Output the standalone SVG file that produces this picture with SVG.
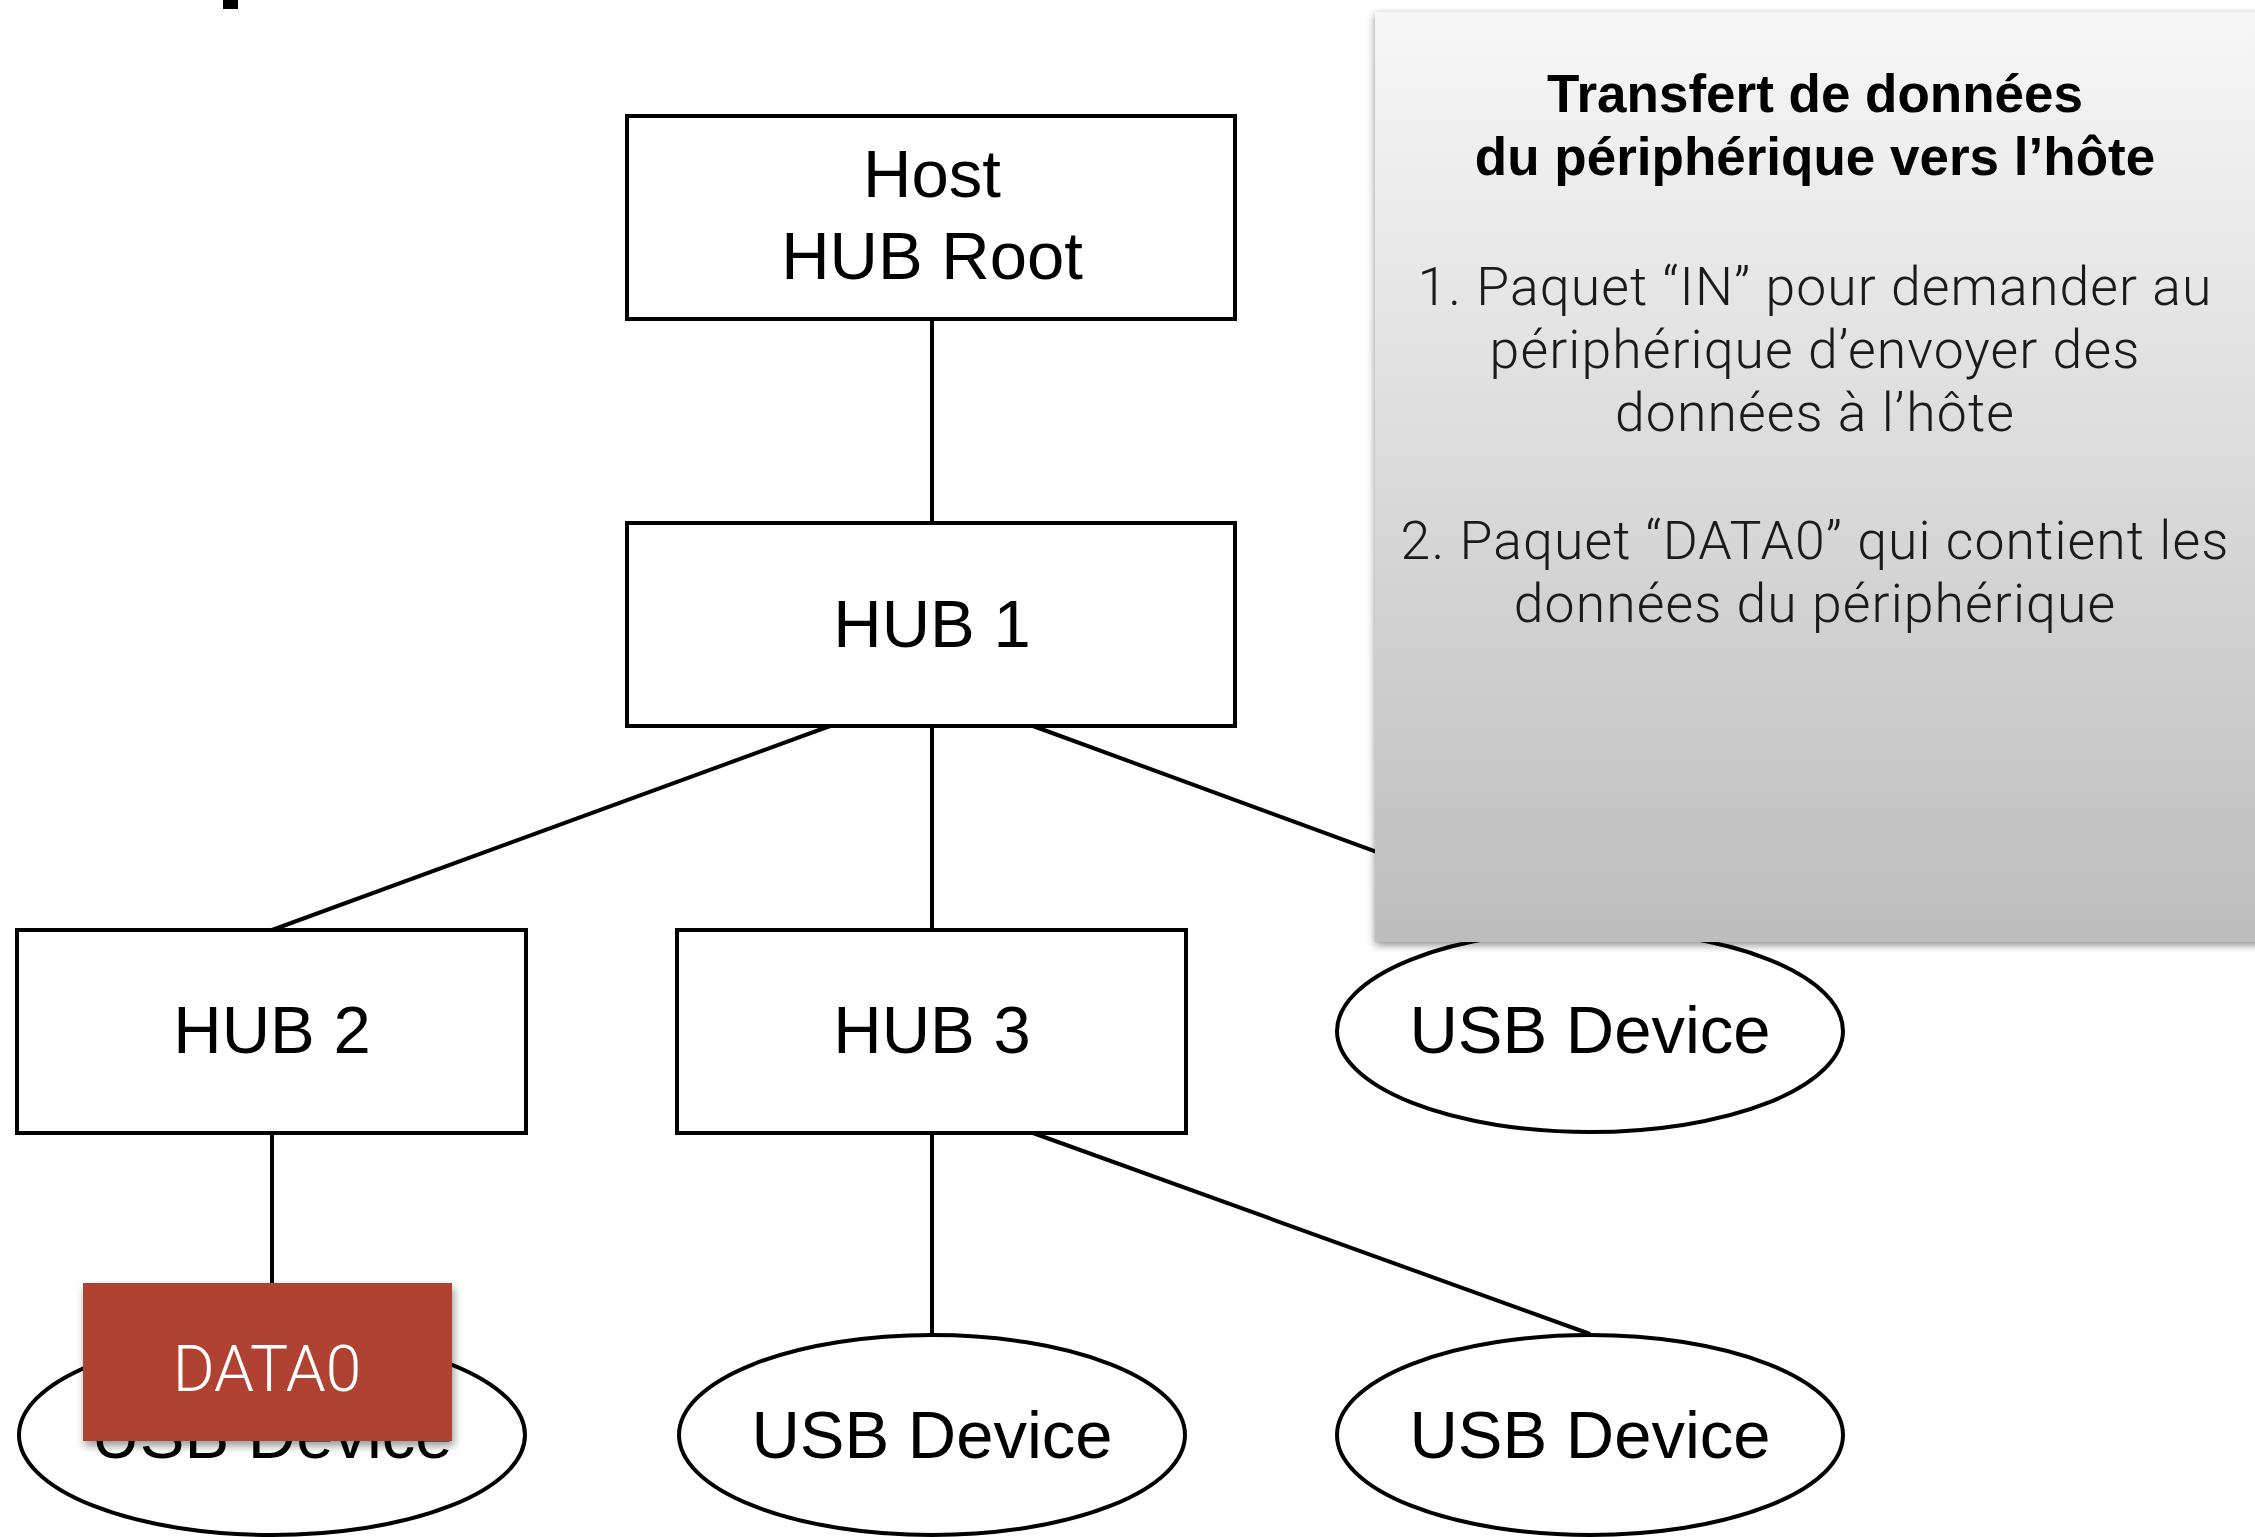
<svg xmlns="http://www.w3.org/2000/svg" width="2255" height="1537" viewBox="0 0 2255 1537">
  <defs>
    <linearGradient id="panelGrad" x1="0" y1="0" x2="0" y2="1">
      <stop offset="0" stop-color="#f7f7f7"/>
      <stop offset="1" stop-color="#bdbdbd"/>
    </linearGradient>
    <filter id="shadow" x="-10%" y="-10%" width="120%" height="120%">
      <feDropShadow dx="0" dy="3" stdDeviation="4" flood-color="#000" flood-opacity="0.45"/>
    </filter>
    <filter id="shadow2" x="-10%" y="-10%" width="130%" height="130%">
      <feDropShadow dx="2" dy="5" stdDeviation="4" flood-color="#000" flood-opacity="0.4"/>
    </filter>
    <style>
      .box { fill: #ffffff; stroke: #000000; stroke-width: 4; }
      .conn { stroke: #000000; stroke-width: 4; fill: none; }
      .lbl { font-family: "Liberation Sans", Arial, sans-serif; font-size: 67px; fill: #000000; text-anchor: middle; }
      .title { font-family: "Liberation Sans", Arial, sans-serif; font-weight: bold; font-size: 53px; fill: #000000; text-anchor: middle; }
      .body { font-family: Roboto, "Liberation Sans", sans-serif; font-weight: 300; font-size: 53.5px; letter-spacing: 1.1px; fill: #1a1a1a; text-anchor: middle; }
      .data { font-family: Roboto, "Liberation Sans", sans-serif; font-weight: 300; font-size: 64px; fill: #ffffff; text-anchor: middle; }
    </style>
  </defs>
  <rect x="0" y="0" width="2255" height="1537" fill="#ffffff"/>
  <rect x="223" y="0" width="15" height="9" fill="#000000"/>

  <g id="connectors">
    <line class="conn" x1="932" y1="319" x2="932" y2="523"/>
    <line class="conn" x1="830" y1="726" x2="272" y2="930"/>
    <line class="conn" x1="932" y1="726" x2="932" y2="930"/>
    <line class="conn" x1="1033" y1="726" x2="1590" y2="930"/>
    <line class="conn" x1="272" y1="1133" x2="272" y2="1334"/>
    <line class="conn" x1="932" y1="1133" x2="932" y2="1334"/>
    <line class="conn" x1="1033" y1="1133" x2="1590" y2="1334"/>
  </g>

  <g id="host">
    <rect class="box" x="627" y="116" width="608" height="203"/>
    <text class="lbl" x="932" y="197">Host</text>
    <text class="lbl" x="932" y="279">HUB Root</text>
  </g>
  <g id="hub1">
    <rect class="box" x="627" y="523" width="608" height="203"/>
    <text class="lbl" x="932" y="647">HUB 1</text>
  </g>
  <g id="hub2">
    <rect class="box" x="17" y="930" width="509" height="203"/>
    <text class="lbl" x="272" y="1053">HUB 2</text>
  </g>
  <g id="hub3">
    <rect class="box" x="677" y="930" width="509" height="203"/>
    <text class="lbl" x="932" y="1053">HUB 3</text>
  </g>
  <g id="dev-top-right">
    <ellipse class="box" cx="1590" cy="1031" rx="253" ry="101"/>
    <text class="lbl" x="1590" y="1053">USB Device</text>
  </g>
  <g id="dev-left">
    <ellipse class="box" cx="272" cy="1435" rx="253" ry="100"/>
    <text class="lbl" x="272" y="1458">USB Device</text>
  </g>
  <g id="dev-mid">
    <ellipse class="box" cx="932" cy="1435" rx="253" ry="100"/>
    <text class="lbl" x="932" y="1458">USB Device</text>
  </g>
  <g id="dev-right">
    <ellipse class="box" cx="1590" cy="1435" rx="253" ry="100"/>
    <text class="lbl" x="1590" y="1458">USB Device</text>
  </g>

  <g id="data0">
    <rect x="83" y="1283" width="369" height="158" fill="#b04232" filter="url(#shadow2)"/>
    <text class="data" x="267" y="1391">DATA0</text>
  </g>

  <g id="panel">
    <rect x="1375" y="12" width="900" height="930" fill="url(#panelGrad)" filter="url(#shadow)"/>
    <text class="title" x="1815" y="112">Transfert de données</text>
    <text class="title" x="1815" y="175">du périphérique vers l’hôte</text>
    <text class="body" x="1815" y="305">1. Paquet “IN” pour demander au</text>
    <text class="body" x="1815" y="368">périphérique d’envoyer des</text>
    <text class="body" x="1815" y="431">données à l’hôte</text>
    <text class="body" x="1815" y="559">2. Paquet “DATA0” qui contient les</text>
    <text class="body" x="1815" y="622">données du périphérique</text>
  </g>
</svg>
